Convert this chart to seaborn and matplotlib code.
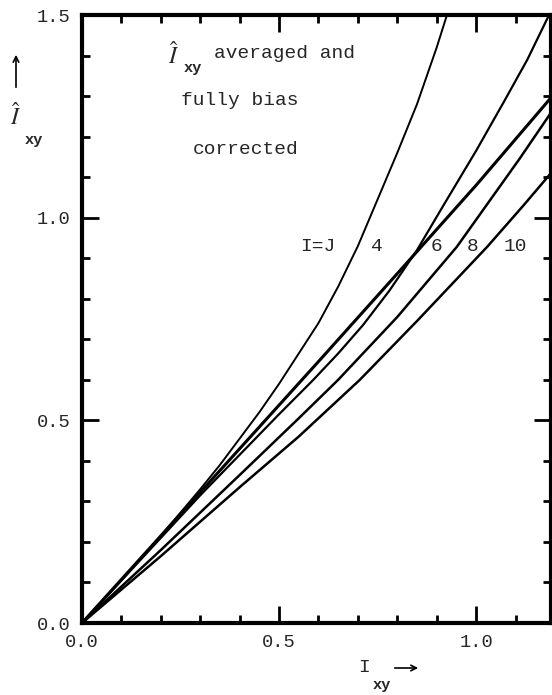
import matplotlib
matplotlib.use("Agg")
import matplotlib.pyplot as plt
from matplotlib.ticker import MultipleLocator
import seaborn as sns
import pandas as pd

# curves: (x, y) samples for each I=J value
curve_names = ["I=J", "4", "6", "8", "10"]

ij_x = [0.0, 0.1, 0.2, 0.3, 0.35, 0.4, 0.45, 0.5, 0.55, 0.6, 0.65, 0.7,
        0.75, 0.8, 0.85, 0.9, 0.926]
ij_y = [0.0, 0.105, 0.215, 0.33, 0.39, 0.455, 0.52, 0.59, 0.665, 0.74,
        0.83, 0.93, 1.045, 1.16, 1.28, 1.42, 1.5]

j4_x = [0.0, 0.1, 0.2, 0.3, 0.4, 0.5, 0.587, 0.65, 0.713, 0.78, 0.85, 0.92,
        1.0, 1.07, 1.13, 1.185]
j4_y = [0.0, 0.105, 0.21, 0.315, 0.415, 0.515, 0.6, 0.665, 0.735, 0.82,
        0.92, 1.035, 1.165, 1.285, 1.39, 1.5]

j6_x = [0.0, 0.2, 0.4, 0.6, 0.8, 1.0, 1.19]
j6_y = [0.0, 0.215, 0.43, 0.645, 0.862, 1.08, 1.296]

j8_x = [0.0, 0.2, 0.4, 0.55, 0.65, 0.8, 0.951, 1.036, 1.11, 1.19]
j8_y = [0.0, 0.18, 0.365, 0.505, 0.6, 0.755, 0.928, 1.044, 1.145, 1.259]

j10_x = [0.0, 0.2, 0.4, 0.55, 0.705, 0.85, 1.028, 1.12, 1.19]
j10_y = [0.0, 0.165, 0.335, 0.46, 0.6, 0.745, 0.928, 1.03, 1.11]

# label positions along the y=0.93 row
label_x = [0.597, 0.749, 0.90, 0.992, 1.10]
label_y = 0.928

sns.set_style("ticks")
plt.rcParams["font.family"] = ["Liberation Mono", "DejaVu Sans"]
plt.rcParams["mathtext.fontset"] = "stix"

frames = []
for name, xs, ys in zip(curve_names,
                        [ij_x, j4_x, j6_x, j8_x, j10_x],
                        [ij_y, j4_y, j6_y, j8_y, j10_y]):
    frames.append(pd.DataFrame({"x": xs, "y": ys, "curve": name}))
df = pd.concat(frames, ignore_index=True)

widths = {"I=J": 1.4, "4": 1.6, "6": 2.2, "8": 1.8, "10": 1.8}

fig = plt.figure(figsize=(5.52, 6.95), dpi=100)
ax = fig.add_axes([82 / 552, 72 / 695, 469 / 552, 608 / 695])

for name in curve_names:
    sub = df[df["curve"] == name]
    sns.lineplot(data=sub, x="x", y="y", sort=False, estimator=None,
                 color="black", linewidth=widths[name], ax=ax, legend=False)

for name, lx in zip(curve_names, label_x):
    ax.text(lx, label_y, name, ha="center", va="center", fontsize=14)

# annotation block
ax.text(0.233, 1.40, r"$\hat{I}$", ha="center", va="center", fontsize=17)
ax.text(0.28, 1.37, "xy", ha="center", va="center", fontsize=11,
        fontweight="bold")
ax.text(0.335, 1.405, "averaged and", ha="left", va="center", fontsize=14)
ax.text(0.25, 1.29, "fully bias", ha="left", va="center", fontsize=14)
ax.text(0.282, 1.168, "corrected", ha="left", va="center", fontsize=14)

ax.set_xlim(0, 1.19)
ax.set_ylim(0, 1.5)
ax.xaxis.set_major_locator(MultipleLocator(0.5))
ax.xaxis.set_minor_locator(MultipleLocator(0.1))
ax.yaxis.set_major_locator(MultipleLocator(0.5))
ax.yaxis.set_minor_locator(MultipleLocator(0.1))
ax.xaxis.set_major_formatter(plt.FuncFormatter(lambda v, p: f"{v:.1f}"))
ax.yaxis.set_major_formatter(plt.FuncFormatter(lambda v, p: f"{v:.1f}"))
ax.tick_params(which="both", direction="in", top=True, right=True,
               width=2, color="black", labelsize=13.5)
ax.tick_params(which="major", length=12, pad=8)
ax.tick_params(which="minor", length=6)
ax.set_xlabel("")
ax.set_ylabel("")
for sp in ax.spines.values():
    sp.set_linewidth(3)
    sp.set_color("black")

# axis captions placed like the scan
ax.annotate("", xy=(16, 695 - 52), xytext=(16, 695 - 90),
            xycoords="figure pixels", textcoords="figure pixels",
            arrowprops=dict(arrowstyle="->", lw=1.2, color="black"))
fig.text(16 / 552, 1 - 117 / 695, r"$\hat{I}$", ha="center", va="center",
         fontsize=17)
fig.text(34 / 552, 1 - 140 / 695, "xy", ha="center", va="center",
         fontsize=11, fontweight="bold")

fig.text(364 / 552, 1 - 668 / 695, "I", ha="center", va="center", fontsize=14)
fig.text(382 / 552, 1 - 685 / 695, "xy", ha="center", va="center",
         fontsize=11, fontweight="bold")
ax.annotate("", xy=(421, 695 - 668), xytext=(392, 695 - 668),
            xycoords="figure pixels", textcoords="figure pixels",
            arrowprops=dict(arrowstyle="->", lw=1.2, color="black"))

fig.savefig("out.png", dpi=100)
